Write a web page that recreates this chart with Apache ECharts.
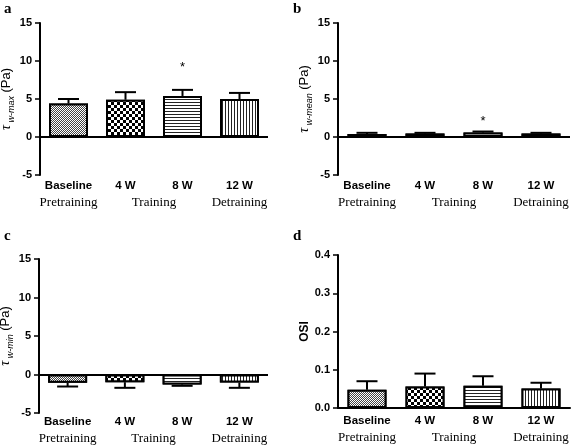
<!DOCTYPE html>
<html>
<head>
<meta charset="utf-8">
<script src="https://cdn.jsdelivr.net/npm/echarts@6/dist/echarts.min.js"></script>
<style>
html,body{margin:0;padding:0;background:#fff;}
#chart{width:571px;height:445px;}
</style>
</head>
<body>
<div id="chart"></div>
<script>
// ---- data ----
const categories = ['Baseline', '4 W', '8 W', '12 W'];
const phaseLabels = ['', 'Pretraining', '', '', 'Training', '', '', 'Detraining', ''];
const panelLetters = ['a', 'b', 'c', 'd'];

const maxMean = [4.4, 4.9, 5.4, 5.0];
const maxErrEnd = [5.0, 5.9, 6.2, 5.8];
const meanMean = [0.4, 0.45, 0.6, 0.45];
const meanErrEnd = [0.55, 0.55, 0.72, 0.55];
const minMean = [-1.08, -1.0, -1.3, -1.04];
const minErrEnd = [-1.56, -1.73, -1.47, -1.73];
const osiMean = [0.048, 0.056, 0.058, 0.051];
const osiErrEnd = [0.070, 0.090, 0.083, 0.066];

const asteriskA = [[2, 9.2]];
const asteriskB = [[2, 2.0]];

// ---- styling ----
const SANS = "'Liberation Sans', Arial, sans-serif";
const SERIF = "'Liberation Serif', 'Times New Roman', serif";

const decals = [
  { symbol: 'rect', symbolSize: 1, color: '#444', backgroundColor: '#fff', dashArrayX: [[1, 1], [0, 1, 1, 0]], dashArrayY: [1, 0] },
  { symbol: 'rect', symbolSize: 1, color: '#000', backgroundColor: '#fff', dashArrayX: [[3, 3], [0, 3, 3, 0]], dashArrayY: [3, 0] },
  { symbol: 'rect', symbolSize: 1, color: '#222', backgroundColor: '#fff', dashArrayX: [8, 0], dashArrayY: [1, 2] },
  { symbol: 'rect', symbolSize: 1, color: '#222', backgroundColor: '#fff', dashArrayX: [1, 2], dashArrayY: [8, 0] }
];

const gridBase = { containLabel: false, outerBoundsMode: 'none' };
const grids = [
  Object.assign({ left: 40, top: 23, width: 228, height: 152 }, gridBase),
  Object.assign({ left: 338, top: 23, width: 232, height: 152 }, gridBase),
  Object.assign({ left: 39, top: 259, width: 229, height: 154 }, gridBase),
  Object.assign({ left: 338, top: 255, width: 232, height: 153 }, gridBase)
];

function yName(sub) {
  return '{t|τ}{s| ' + sub + '}{p| (Pa)}';
}
const nameRich = {
  t: { fontFamily: SERIF, fontStyle: 'italic', fontSize: 14, color: '#000', verticalAlign: 'bottom' },
  s: { fontFamily: SANS, fontStyle: 'italic', fontSize: 9, color: '#000', verticalAlign: 'bottom', padding: [0, 0, -3, 0] },
  p: { fontFamily: SANS, fontSize: 13, color: '#000', verticalAlign: 'bottom' }
};

const panels = [
  { mean: maxMean, err: maxErrEnd, stars: asteriskA, yname: yName('w-max'), min: -5, max: 15, interval: 5, zeroLine: true, nameGap: 22, m1: 5, m2: 21 },
  { mean: meanMean, err: meanErrEnd, stars: asteriskB, yname: yName('w-mean'), min: -5, max: 15, interval: 5, zeroLine: true, nameGap: 22, m1: 5, m2: 21 },
  { mean: minMean, err: minErrEnd, stars: [], yname: yName('w-min'), min: -5, max: 15, interval: 5, zeroLine: true, nameGap: 22, m1: 3, m2: 19 },
  { mean: osiMean, err: osiErrEnd, stars: [], yname: 'OSI', min: 0, max: 0.4, interval: 0.1, zeroLine: false, nameGap: 25, m1: 7, m2: 23 }
];

const xAxes = [], yAxes = [], series = [];
panels.forEach((p, k) => {
  const xi = xAxes.length;
  xAxes.push({
    type: 'category', gridIndex: k, data: categories,
    axisLine: { show: !p.zeroLine, onZero: false, lineStyle: { color: '#000', width: 2 } },
    axisTick: { show: false },
    axisLabel: { interval: 0, margin: p.m1, fontFamily: SANS, fontWeight: 'bold', fontSize: 11.5, color: '#000' }
  });
  xAxes.push({
    type: 'category', gridIndex: k, data: phaseLabels, boundaryGap: false, position: 'bottom',
    axisLine: { show: false, onZero: false }, axisTick: { show: false }, splitLine: { show: false },
    axisLabel: { interval: 0, margin: p.m2, fontFamily: SERIF, fontSize: 13, color: '#000' }
  });
  yAxes.push({
    type: 'value', gridIndex: k, min: p.min, max: p.max, interval: p.interval,
    name: p.yname, nameLocation: 'middle', nameGap: p.nameGap,
    nameTextStyle: p.zeroLine ? { rich: nameRich } : { fontFamily: SANS, fontWeight: 'bold', fontSize: 12, color: '#000' },
    axisLine: { show: true, lineStyle: { color: '#000', width: 2 } },
    axisTick: { show: true, inside: false, length: 5, lineStyle: { color: '#000', width: 1.5 } },
    splitLine: { show: false },
    axisLabel: {
      inside: false, margin: 8, fontFamily: SANS, fontWeight: 'bold', fontSize: 11, color: '#000',
      formatter: p.zeroLine ? (v) => String(v) : (v) => v.toFixed(1)
    }
  });
  const barSeries = {
    type: 'bar', xAxisIndex: xi, yAxisIndex: k, barWidth: 39, z: 3,
    data: p.mean.map((v, i) => ({
      value: v,
      itemStyle: { color: '#fff', borderColor: '#000', borderWidth: 2, decal: decals[i] }
    })),
    silent: true, animation: false
  };
  if (p.zeroLine) {
    barSeries.markLine = {
      silent: true, symbol: 'none', animation: false,
      label: { show: false },
      lineStyle: { color: '#000', width: 2, type: 'solid' },
      data: [{ yAxis: 0 }]
    };
  }
  series.push(barSeries);
  series.push({
    type: 'custom', xAxisIndex: xi, yAxisIndex: k, z: 2, animation: false, silent: true,
    data: p.mean.map((v, i) => [i, v, p.err[i]]),
    renderItem: function (params, api) {
      const a = api.coord([api.value(0), api.value(1)]);
      const b = api.coord([api.value(0), api.value(2)]);
      const hw = 10.5;
      const st = { stroke: '#000', lineWidth: 2 };
      return {
        type: 'group', children: [
          { type: 'line', shape: { x1: a[0], y1: a[1], x2: b[0], y2: b[1] }, style: st },
          { type: 'line', shape: { x1: b[0] - hw, y1: b[1], x2: b[0] + hw, y2: b[1] }, style: st }
        ]
      };
    }
  });
  if (p.stars.length) {
    series.push({
      type: 'custom', xAxisIndex: xi, yAxisIndex: k, z: 4, animation: false, silent: true,
      data: p.stars,
      renderItem: function (params, api) {
        const c = api.coord([api.value(0), api.value(1)]);
        return {
          type: 'text',
          style: { x: c[0], y: c[1], text: '*', fill: '#000', font: '13px ' + SANS, align: 'center', verticalAlign: 'middle' }
        };
      }
    });
  }
});

const letterPos = [[4, 2], [293, 2], [4, 229], [293, 229]];
const graphic = panelLetters.map((t, i) => ({
  type: 'text', left: letterPos[i][0], top: letterPos[i][1],
  style: { text: t, fill: '#000', font: 'bold 15px ' + SERIF }
}));

const chart = echarts.init(document.getElementById('chart'), null, { renderer: 'canvas' });
chart.setOption({
  animation: false,
  backgroundColor: '#fff',
  grid: grids,
  xAxis: xAxes,
  yAxis: yAxes,
  series: series,
  graphic: graphic
});
</script>
</body>
</html>
